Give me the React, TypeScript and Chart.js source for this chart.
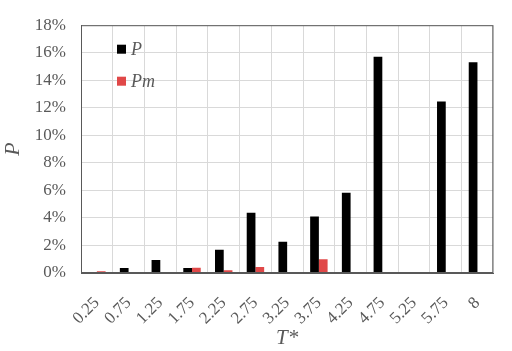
import React, { useEffect, useRef } from "react";
import { Chart, registerables } from "chart.js";

Chart.register(...registerables);

const categories = ["0.25", "0.75", "1.25", "1.75", "2.25", "2.75", "3.25", "3.75", "4.25", "4.75", "5.25", "5.75", "8"];
const seriesP = [0, 0.37, 0.95, 0.37, 1.68, 4.38, 2.27, 4.1, 5.83, 15.7, 0, 12.45, 15.3];
const seriesPm = [0.13, 0.05, 0.05, 0.38, 0.2, 0.43, 0, 1.0, 0, 0, 0, 0, 0];
const yTicks = [0, 2, 4, 6, 8, 10, 12, 14, 16, 18];

const FONT = "'Liberation Serif', 'Times New Roman', serif";
const GRAY = "#595959";

const frameAndLegend = {
  id: "frameAndLegend",
  afterDraw(chart: any) {
    const { ctx, chartArea } = chart;
    ctx.save();
    ctx.strokeStyle = GRAY;
    ctx.lineWidth = 1;
    ctx.strokeRect(chartArea.left + 0.5, chartArea.top + 0.5, chartArea.right - chartArea.left - 1, chartArea.bottom - chartArea.top - 1);
    const x0 = chartArea.left + 36;
    let y0 = chartArea.top + 24;
    chart.data.datasets.forEach((ds: any) => {
      ctx.fillStyle = ds.backgroundColor;
      ctx.fillRect(x0, y0 - 4.5, 9, 9);
      ctx.fillStyle = GRAY;
      ctx.font = `italic 18px ${FONT}`;
      ctx.textBaseline = "middle";
      ctx.textAlign = "left";
      ctx.fillText(ds.label, x0 + 14, y0 + 1);
      y0 += 32;
    });
    ctx.restore();
  },
};

export default function App() {
  const ref = useRef<HTMLCanvasElement>(null);
  useEffect(() => {
    if (!ref.current) return;
    const chart = new Chart(ref.current, {
      type: "bar",
      data: {
        labels: categories,
        datasets: [
          { label: "P", data: seriesP, backgroundColor: "#000000" },
          { label: "Pm", data: seriesPm, backgroundColor: "#e04848" },
        ],
      },
      options: {
        animation: false,
        responsive: false,
        maintainAspectRatio: false,
        datasets: { bar: { categoryPercentage: 0.55, barPercentage: 1 } },
        layout: { padding: { top: 10, right: 3, left: 0, bottom: 0 } },
        plugins: { legend: { display: false }, tooltip: { enabled: false } },
        scales: {
          x: {
            offset: true,
            grid: { offset: true, color: "#d9d9d9", drawTicks: false },
            border: { color: GRAY, width: 1 },
            ticks: { color: GRAY, font: { family: FONT, size: 17 }, minRotation: 45, maxRotation: 45, padding: 20, autoSkip: false },
            title: { display: true, text: "T*", color: GRAY, font: { family: FONT, size: 21, style: "italic" }, padding: { top: 0, bottom: 0 } },
            afterFit: (s: any) => { s.height = 78; },
          },
          y: {
            min: 0,
            max: 18,
            grid: { color: "#d9d9d9", drawTicks: false },
            border: { color: GRAY, width: 1 },
            afterBuildTicks: (s: any) => { s.ticks = yTicks.map((v) => ({ value: v })); },
            ticks: { color: GRAY, font: { family: FONT, size: 17 }, padding: 15, callback: (v: any) => `${v}%` },
            title: { display: true, text: "P", color: GRAY, font: { family: FONT, size: 22, style: "italic" }, padding: { top: 0, bottom: 0 } },
            afterFit: (s: any) => { s.width = 81; },
          },
        },
      },
      plugins: [frameAndLegend],
    });
    return () => chart.destroy();
  }, []);
  return (
    <div style={{ position: "fixed", left: 0, top: 0, width: 512, height: 351, background: "#fff" }}>
      <canvas ref={ref} width={512} height={351} style={{ width: 512, height: 351 }} />
    </div>
  );
}
